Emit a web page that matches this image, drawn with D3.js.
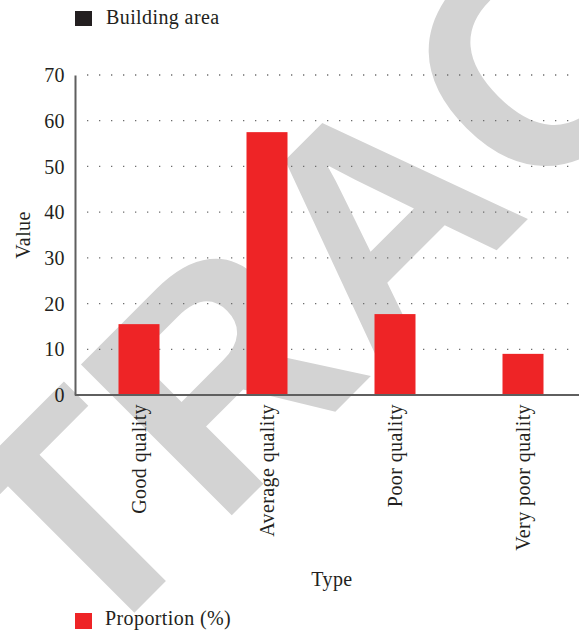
<!doctype html>
<html>
<head>
<meta charset="utf-8">
<script src="https://d3js.org/d3.v7.min.js"></script>
<style>
body { margin: 0; background: #fff; }
svg text { font-family: "Liberation Serif", "DejaVu Serif", serif; fill: #231f20; letter-spacing: 0.4px; }
</style>
</head>
<body>
<svg width="579" height="638"></svg>
<script>
// chart data
var categories = ["Good quality", "Average quality", "Poor quality", "Very poor quality"];
var proportion = [15.5, 57.5, 17.7, 9.0];
var yTicks = [0, 10, 20, 30, 40, 50, 60, 70];

var svg = d3.select("svg");
var plotLeft = 75, plotTop = 75, plotBottom = 395;

var x = d3.scaleBand().domain(categories).range([plotLeft, 587]);
var y = d3.scaleLinear().domain([0, 70]).range([plotBottom, plotTop]);
var barW = 41;

// retraction watermark behind everything
var S = 310;
svg.append("text")
    .attr("transform", "translate(150,597) rotate(-45)")
    .attr("x", -1.694 * S)
    .attr("y", 0)
    .style("font-family", "Liberation Sans, Arial, sans-serif")
    .style("font-weight", "bold")
    .style("font-size", S + "px")
    .style("letter-spacing", "0px")
    .style("fill", "#d3d3d3")
    .text("RETRACTED");

// dotted gridlines
svg.append("g").selectAll("line")
    .data(yTicks.slice(1))
    .enter().append("line")
    .attr("x1", 87).attr("x2", 572)
    .attr("y1", function(d) { return y(d); })
    .attr("y2", function(d) { return y(d); })
    .attr("stroke", "#6d6d6d")
    .attr("stroke-width", 1.3)
    .attr("stroke-dasharray", "1.3,10.7");

// bars
svg.append("g").selectAll("rect")
    .data(proportion)
    .enter().append("rect")
    .attr("x", function(d, i) { return x(categories[i]) + x.bandwidth() / 2 - barW / 2; })
    .attr("y", function(d) { return y(d); })
    .attr("width", barW)
    .attr("height", function(d) { return plotBottom - y(d); })
    .attr("fill", "#ee2426");

// axes
var yAxis = svg.append("g")
    .attr("transform", "translate(" + plotLeft + ",0)")
    .call(d3.axisLeft(y).tickValues(yTicks).tickSize(0).tickPadding(10));
yAxis.select(".domain").attr("stroke", "#5f5f5f").attr("stroke-width", 2);
yAxis.selectAll("text").style("font-size", "20px").attr("dy", "0.33em");

var xAxis = svg.append("g")
    .attr("transform", "translate(0," + plotBottom + ")")
    .call(d3.axisBottom(x).tickSize(0).tickSizeOuter(0));
xAxis.select(".domain").attr("d", "M" + plotLeft + ",0H579").attr("stroke", "#5f5f5f").attr("stroke-width", 2);
xAxis.selectAll("text")
    .style("font-size", "20px")
    .attr("text-anchor", "end")
    .attr("transform", "rotate(-90)")
    .attr("x", -9)
    .attr("y", 0)
    .attr("dy", "0.35em");

// axis titles
svg.append("text")
    .attr("transform", "translate(30,235) rotate(-90)")
    .attr("text-anchor", "middle")
    .style("font-size", "20px")
    .text("Value");

svg.append("text")
    .attr("x", 332).attr("y", 586)
    .attr("text-anchor", "middle")
    .style("font-size", "20px")
    .text("Type");

// legends
svg.append("rect").attr("x", 75).attr("y", 11).attr("width", 17).attr("height", 15).attr("fill", "#231f20");
svg.append("text").attr("x", 106).attr("y", 24).style("font-size", "20px").text("Building area");

svg.append("rect").attr("x", 75).attr("y", 613).attr("width", 17).attr("height", 16).attr("fill", "#ee2426");
svg.append("text").attr("x", 105).attr("y", 625).style("font-size", "20px").text("Proportion (%)");
</script>
</body>
</html>
